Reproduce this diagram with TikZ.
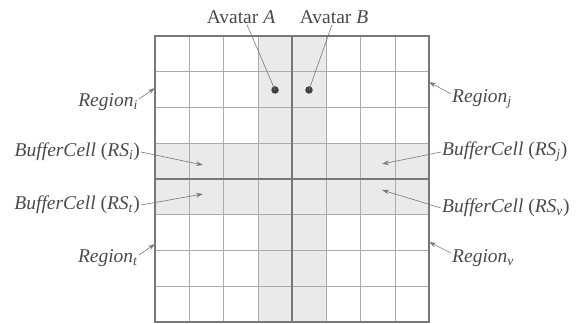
\documentclass[tikz,border=0pt]{standalone}
\usepackage{fontspec}
\setmainfont{Liberation Serif}
\usetikzlibrary{arrows.meta}
\definecolor{txt}{HTML}{4A4A4A}
\definecolor{band}{HTML}{EAEAEA}
\definecolor{gridc}{HTML}{ABABAB}
\definecolor{darkln}{HTML}{787878}
\tikzset{
  lbl/.style={text=txt, font=\fontsize{19.5}{22}\selectfont, inner sep=1pt},
  ptr/.style={draw=darkln, line width=0.6pt, -{Stealth[length=7pt,width=4.5pt]}},
  lead/.style={draw=darkln, line width=0.6pt},
  heavy/.style={draw=darkln, line width=1.4pt},
  avdot/.style={circle, fill=black!75, inner sep=0pt, minimum size=7.5pt}
}
\begin{document}
\begin{tikzpicture}[x=1pt,y=1pt]
\useasboundingbox (0,0) rectangle (582,324);
% grid geometry
\def\xa{155}\def\xb{429}\def\ya{2}\def\yb{288}
% shaded bands
\fill[band] (257.75,\ya) rectangle (326.25,\yb);
\fill[band] (\xa,109.25) rectangle (\xb,180.75);
% thin grid
\foreach \i in {1,...,7} {
  \draw[gridc, line width=0.5pt] ({\xa+\i*34.25},\ya) -- ({\xa+\i*34.25},\yb);
  \draw[gridc, line width=0.5pt] (\xa,{\ya+\i*35.75}) -- (\xb,{\ya+\i*35.75});
}
% heavy lines
\draw[heavy] (292,\ya) -- (292,\yb);
\draw[heavy] (\xa,145) -- (\xb,145);
\draw[heavy] (\xa,\ya) rectangle (\xb,\yb);
% avatars
\node[avdot] (da) at (275,234) {};
\node[avdot] (db) at (309,234) {};
\node[lbl] (aa) at (241,307) {Avatar \textit{A}};
\node[lbl] (ab) at (334,307) {Avatar \textit{B}};
\draw[lead] (aa.south) ++(6,0) coordinate (aas) -- (da.center);
\draw[lead] (ab.south) ++(-2,0) coordinate (abs) -- (db.center);
% tips
\coordinate (tri) at (155,236);
\coordinate (trj) at (429,242);
\coordinate (trt) at (155,80);
\coordinate (trv) at (429,82);
\coordinate (tbi) at (203,159);
\coordinate (tbt) at (203,130);
\coordinate (tbj) at (382,160);
\coordinate (tbv) at (382,134);
% left labels
\node[lbl, anchor=east] (ri) at (139,222) {\textit{Region}\textsubscript{\textit{i}}};
\node[lbl, anchor=east] (bi) at (141,172) {\textit{BufferCell} (\textit{RS}\textsubscript{\textit{i}})};
\node[lbl, anchor=east] (bt) at (141,119) {\textit{BufferCell} (\textit{RS}\textsubscript{\textit{t}})};
\node[lbl, anchor=east] (rt) at (139,66) {\textit{Region}\textsubscript{\textit{t}}};
% right labels
\node[lbl, anchor=west] (rj) at (451,225) {\textit{Region}\textsubscript{\textit{j}}};
\node[lbl, anchor=west] (bj) at (441,172) {\textit{BufferCell} (\textit{RS}\textsubscript{\textit{j}})};
\node[lbl, anchor=west] (bv) at (441,116) {\textit{BufferCell} (\textit{RS}\textsubscript{\textit{v}})};
\node[lbl, anchor=west] (rv) at (451,66) {\textit{Region}\textsubscript{\textit{v}}};
% pointers
\draw[ptr] ([yshift=3pt]ri.east) -- (tri);
\draw[ptr] (bi.east) -- (tbi);
\draw[ptr] (bt.east) -- (tbt);
\draw[ptr] ([yshift=3pt]rt.east) -- (trt);
\draw[ptr] ([yshift=5pt]rj.west) -- (trj);
\draw[ptr] (bj.west) -- (tbj);
\draw[ptr] (bv.west) -- (tbv);
\draw[ptr] ([yshift=5pt]rv.west) -- (trv);
\end{tikzpicture}
\end{document}
